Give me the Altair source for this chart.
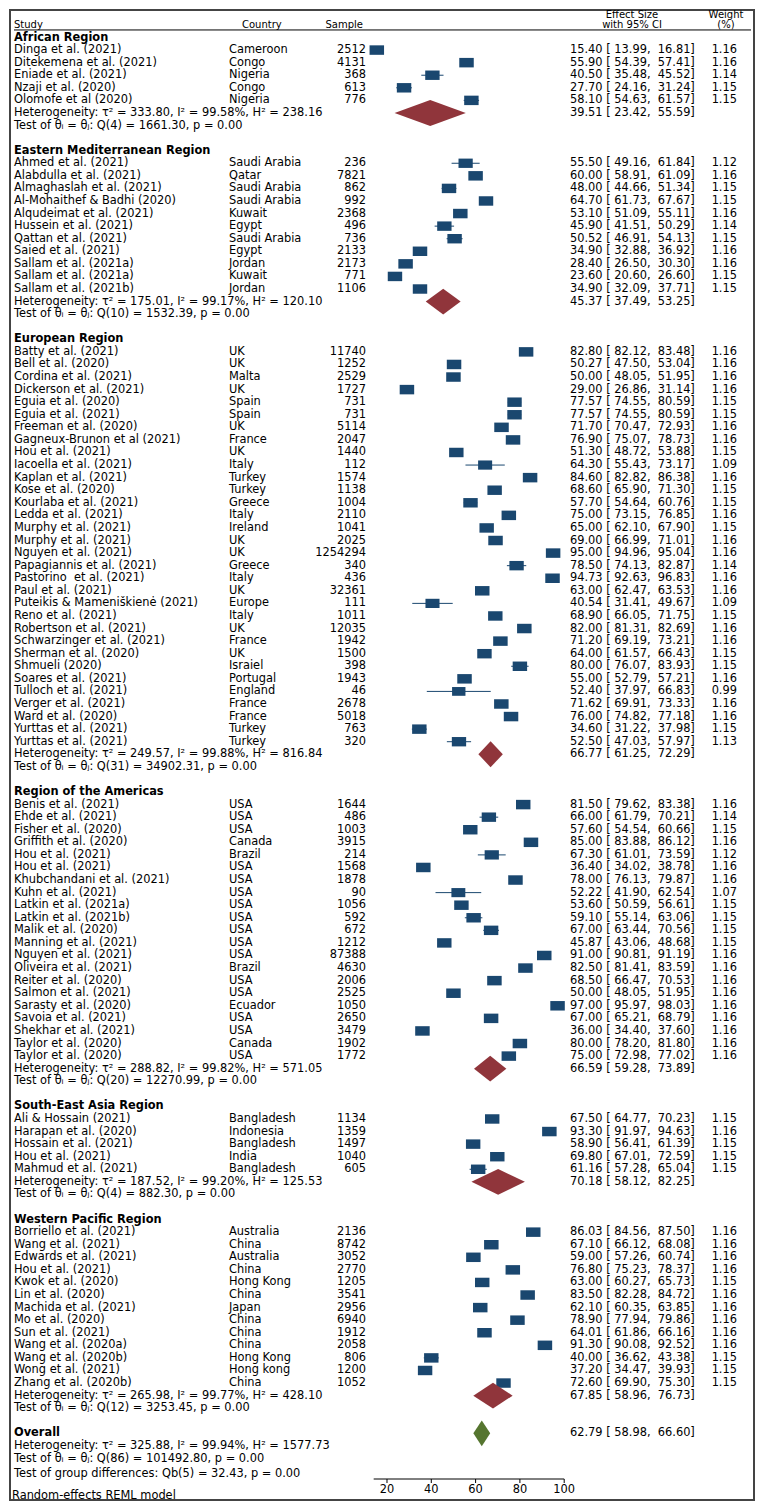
import altair as alt
import pandas as pd

# ---------------- data ----------------
AFR_STUDY = ["Dinga et al. (2021)", "Ditekemena et al. (2021)", "Eniade et al. (2021)", "Nzaji et al. (2020)", "Olomofe et al (2020)"]
AFR_COUNTRY = ["Cameroon", "Congo", "Nigeria", "Congo", "Nigeria"]
AFR_N = [2512, 4131, 368, 613, 776]
AFR_ES = [15.40, 55.90, 40.50, 27.70, 58.10]
AFR_LO = [13.99, 54.39, 35.48, 24.16, 54.63]
AFR_HI = [16.81, 57.41, 45.52, 31.24, 61.57]
AFR_W = [1.16, 1.16, 1.14, 1.15, 1.15]
AFR_POOL = [39.51, 23.42, 55.59]
AFR_HET = [333.80, 99.58, 238.16]
AFR_Q = [4, 1661.30, 0.00]

EMR_STUDY = ["Ahmed et al. (2021)", "Alabdulla et al. (2021)", "Almaghaslah et al. (2021)", "Al-Mohaithef & Badhi (2020)",
             "Alqudeimat et al. (2021)", "Hussein et al. (2021)", "Qattan et al. (2021)", "Saied et al. (2021)",
             "Sallam et al. (2021a)", "Sallam et al. (2021a)", "Sallam et al. (2021b)"]
EMR_COUNTRY = ["Saudi Arabia", "Qatar", "Saudi Arabia", "Saudi Arabia", "Kuwait", "Egypt", "Saudi Arabia", "Egypt",
               "Jordan", "Kuwait", "Jordan"]
EMR_N = [236, 7821, 862, 992, 2368, 496, 736, 2133, 2173, 771, 1106]
EMR_ES = [55.50, 60.00, 48.00, 64.70, 53.10, 45.90, 50.52, 34.90, 28.40, 23.60, 34.90]
EMR_LO = [49.16, 58.91, 44.66, 61.73, 51.09, 41.51, 46.91, 32.88, 26.50, 20.60, 32.09]
EMR_HI = [61.84, 61.09, 51.34, 67.67, 55.11, 50.29, 54.13, 36.92, 30.30, 26.60, 37.71]
EMR_W = [1.12, 1.16, 1.15, 1.15, 1.16, 1.14, 1.15, 1.16, 1.16, 1.15, 1.15]
EMR_POOL = [45.37, 37.49, 53.25]
EMR_HET = [175.01, 99.17, 120.10]
EMR_Q = [10, 1532.39, 0.00]

EUR_STUDY = ["Batty et al. (2021)", "Bell et al. (2020)", "Cordina et al. (2021)", "Dickerson et al. (2021)",
             "Eguia et al. (2020)", "Eguia et al. (2021)", "Freeman et al. (2020)", "Gagneux-Brunon et al (2021)",
             "Hou et al. (2021)", "Iacoella et al. (2021)", "Kaplan et al. (2021)", "Kose et al. (2020)",
             "Kourlaba et al. (2021)", "Ledda et al. (2021)", "Murphy et al. (2021)", "Murphy et al. (2021)",
             "Nguyen et al. (2021)", "Papagiannis et al. (2021)", "Pastorino\u00a0 et al. (2021)", "Paul et al. (2021)",
             "Puteikis & Mameniškienė (2021)", "Reno et al. (2021)", "Robertson et al. (2021)",
             "Schwarzinger et al. (2021)", "Sherman et al. (2020)", "Shmueli (2020)", "Soares et al. (2021)",
             "Tulloch et al. (2021)", "Verger et al. (2021)", "Ward et al. (2020)", "Yurttas et al. (2021)",
             "Yurttas et al. (2021)"]
EUR_COUNTRY = ["UK", "UK", "Malta", "UK", "Spain", "Spain", "UK", "France", "UK", "Italy", "Turkey", "Turkey",
               "Greece", "Italy", "Ireland", "UK", "UK", "Greece", "Italy", "UK", "Europe", "Italy", "UK", "France",
               "UK", "Israiel", "Portugal", "England", "France", "France", "Turkey", "Turkey"]
EUR_N = [11740, 1252, 2529, 1727, 731, 731, 5114, 2047, 1440, 112, 1574, 1138, 1004, 2110, 1041, 2025, 1254294,
         340, 436, 32361, 111, 1011, 12035, 1942, 1500, 398, 1943, 46, 2678, 5018, 763, 320]
EUR_ES = [82.80, 50.27, 50.00, 29.00, 77.57, 77.57, 71.70, 76.90, 51.30, 64.30, 84.60, 68.60, 57.70, 75.00, 65.00,
          69.00, 95.00, 78.50, 94.73, 63.00, 40.54, 68.90, 82.00, 71.20, 64.00, 80.00, 55.00, 52.40, 71.62, 76.00,
          34.60, 52.50]
EUR_LO = [82.12, 47.50, 48.05, 26.86, 74.55, 74.55, 70.47, 75.07, 48.72, 55.43, 82.82, 65.90, 54.64, 73.15, 62.10,
          66.99, 94.96, 74.13, 92.63, 62.47, 31.41, 66.05, 81.31, 69.19, 61.57, 76.07, 52.79, 37.97, 69.91, 74.82,
          31.22, 47.03]
EUR_HI = [83.48, 53.04, 51.95, 31.14, 80.59, 80.59, 72.93, 78.73, 53.88, 73.17, 86.38, 71.30, 60.76, 76.85, 67.90,
          71.01, 95.04, 82.87, 96.83, 63.53, 49.67, 71.75, 82.69, 73.21, 66.43, 83.93, 57.21, 66.83, 73.33, 77.18,
          37.98, 57.97]
EUR_W = [1.16, 1.16, 1.16, 1.16, 1.15, 1.15, 1.16, 1.16, 1.15, 1.09, 1.16, 1.15, 1.15, 1.16, 1.15, 1.16, 1.16,
         1.14, 1.16, 1.16, 1.09, 1.15, 1.16, 1.16, 1.15, 1.15, 1.16, 0.99, 1.16, 1.16, 1.15, 1.13]
EUR_POOL = [66.77, 61.25, 72.29]
EUR_HET = [249.57, 99.88, 816.84]
EUR_Q = [31, 34902.31, 0.00]

AMR_STUDY = ["Benis et al. (2021)", "Ehde et al. (2021)", "Fisher et al. (2020)", "Griffith et al. (2020)",
             "Hou et al. (2021)", "Hou et al. (2021)", "Khubchandani et al. (2021)", "Kuhn et al. (2021)",
             "Latkin et al. (2021a)", "Latkin et al. (2021b)", "Malik et al. (2020)", "Manning et al. (2021)",
             "Nguyen et al. (2021)", "Oliveira et al. (2021)", "Reiter et al. (2020)", "Salmon et al. (2021)",
             "Sarasty et al. (2020)", "Savoia et al. (2021)", "Shekhar et al. (2021)", "Taylor et al. (2020)",
             "Taylor et al. (2020)"]
AMR_COUNTRY = ["USA", "USA", "USA", "Canada", "Brazil", "USA", "USA", "USA", "USA", "USA", "USA", "USA", "USA",
               "Brazil", "USA", "USA", "Ecuador", "USA", "USA", "Canada", "USA"]
AMR_N = [1644, 486, 1003, 3915, 214, 1568, 1878, 90, 1056, 592, 672, 1212, 87388, 4630, 2006, 2525, 1050, 2650,
         3479, 1902, 1772]
AMR_ES = [81.50, 66.00, 57.60, 85.00, 67.30, 36.40, 78.00, 52.22, 53.60, 59.10, 67.00, 45.87, 91.00, 82.50, 68.50,
          50.00, 97.00, 67.00, 36.00, 80.00, 75.00]
AMR_LO = [79.62, 61.79, 54.54, 83.88, 61.01, 34.02, 76.13, 41.90, 50.59, 55.14, 63.44, 43.06, 90.81, 81.41, 66.47,
          48.05, 95.97, 65.21, 34.40, 78.20, 72.98]
AMR_HI = [83.38, 70.21, 60.66, 86.12, 73.59, 38.78, 79.87, 62.54, 56.61, 63.06, 70.56, 48.68, 91.19, 83.59, 70.53,
          51.95, 98.03, 68.79, 37.60, 81.80, 77.02]
AMR_W = [1.16, 1.14, 1.15, 1.16, 1.12, 1.16, 1.16, 1.07, 1.15, 1.15, 1.15, 1.15, 1.16, 1.16, 1.16, 1.16, 1.16,
         1.16, 1.16, 1.16, 1.16]
AMR_POOL = [66.59, 59.28, 73.89]
AMR_HET = [288.82, 99.82, 571.05]
AMR_Q = [20, 12270.99, 0.00]

SEA_STUDY = ["Ali & Hossain (2021)", "Harapan et al. (2020)", "Hossain et al. (2021)", "Hou et al. (2021)",
             "Mahmud et al. (2021)"]
SEA_COUNTRY = ["Bangladesh", "Indonesia", "Bangladesh", "India", "Bangladesh"]
SEA_N = [1134, 1359, 1497, 1040, 605]
SEA_ES = [67.50, 93.30, 58.90, 69.80, 61.16]
SEA_LO = [64.77, 91.97, 56.41, 67.01, 57.28]
SEA_HI = [70.23, 94.63, 61.39, 72.59, 65.04]
SEA_W = [1.15, 1.16, 1.15, 1.15, 1.15]
SEA_POOL = [70.18, 58.12, 82.25]
SEA_HET = [187.52, 99.20, 125.53]
SEA_Q = [4, 882.30, 0.00]

WPR_STUDY = ["Borriello et al. (2021)", "Wang et al. (2021)", "Edwards et al. (2021)", "Hou et al. (2021)",
             "Kwok et al. (2020)", "Lin et al. (2020)", "Machida et al. (2021)", "Mo et al. (2020)",
             "Sun et al. (2021)", "Wang et al. (2020a)", "Wang et al. (2020b)", "Wong et al. (2021)",
             "Zhang et al. (2020b)"]
WPR_COUNTRY = ["Australia", "China", "Australia", "China", "Hong Kong", "China", "Japan", "China", "China", "China",
               "Hong Kong", "Hong kong", "China"]
WPR_N = [2136, 8742, 3052, 2770, 1205, 3541, 2956, 6940, 1912, 2058, 806, 1200, 1052]
WPR_ES = [86.03, 67.10, 59.00, 76.80, 63.00, 83.50, 62.10, 78.90, 64.01, 91.30, 40.00, 37.20, 72.60]
WPR_LO = [84.56, 66.12, 57.26, 75.23, 60.27, 82.28, 60.35, 77.94, 61.86, 90.08, 36.62, 34.47, 69.90]
WPR_HI = [87.50, 68.08, 60.74, 78.37, 65.73, 84.72, 63.85, 79.86, 66.16, 92.52, 43.38, 39.93, 75.30]
WPR_W = [1.16, 1.16, 1.16, 1.16, 1.15, 1.16, 1.16, 1.16, 1.16, 1.16, 1.15, 1.15, 1.15]
WPR_POOL = [67.85, 58.96, 76.73]
WPR_HET = [265.98, 99.77, 428.10]
WPR_Q = [12, 3253.45, 0.00]

OVERALL_POOL = [62.79, 58.98, 66.60]
OVERALL_HET = [325.88, 99.94, 1577.73]
OVERALL_Q = [86, 101492.80, 0.00]
GROUP_Q = [5, 32.43, 0.00]

AXIS_TICKS = [20, 40, 60, 80, 100]
AXIS_RANGE = [13.99, 100]

REGIONS = [
    ("African Region", AFR_STUDY, AFR_COUNTRY, AFR_N, AFR_ES, AFR_LO, AFR_HI, AFR_W, AFR_POOL, AFR_HET, AFR_Q),
    ("Eastern Mediterranean Region", EMR_STUDY, EMR_COUNTRY, EMR_N, EMR_ES, EMR_LO, EMR_HI, EMR_W, EMR_POOL, EMR_HET, EMR_Q),
    ("European Region", EUR_STUDY, EUR_COUNTRY, EUR_N, EUR_ES, EUR_LO, EUR_HI, EUR_W, EUR_POOL, EUR_HET, EUR_Q),
    ("Region of the Americas", AMR_STUDY, AMR_COUNTRY, AMR_N, AMR_ES, AMR_LO, AMR_HI, AMR_W, AMR_POOL, AMR_HET, AMR_Q),
    ("South-East Asia Region", SEA_STUDY, SEA_COUNTRY, SEA_N, SEA_ES, SEA_LO, SEA_HI, SEA_W, SEA_POOL, SEA_HET, SEA_Q),
    ("Western Pacific Region", WPR_STUDY, WPR_COUNTRY, WPR_N, WPR_ES, WPR_LO, WPR_HI, WPR_W, WPR_POOL, WPR_HET, WPR_Q),
]

# ---------------- styling / layout ----------------
FONT = "DejaVu Sans"
FS = 11.4
HFS = 10.0
NAVY = "#1a476f"
MAROON = "#90353b"
GREEN = "#55752f"
W_PX, H_PX = 744, 1490
DIAMOND_HALF = 1.03  # rows

NB = "\u00a0"


def ci_text(es, lo, hi):
    return f"{es:.2f} [{NB}{lo:.2f},{NB} {hi:.2f}]"


def het_text(h):
    return f"Heterogeneity: τ² = {h[0]:.2f}, I² = {h[1]:.2f}%, H² = {h[2]:.2f}"


def test_text(q):
    return f"Test of θ\u1d62 = θ\u2c7c: Q({q[0]}) = {q[1]:.2f}, p = {q[2]:.2f}"


studies, bold_rows, plain_rows, es_rows, dia_sub, dia_all = [], [], [], [], [], []
r = 0
for (name, st, co, n, es, lo, hi, w, pool, het, q) in REGIONS:
    bold_rows.append({"row": r, "t": name})
    for i in range(len(st)):
        rr = r + 1 + i
        studies.append({"row": rr, "study": st[i], "country": co[i], "n": str(n[i]), "es": es[i],
                        "lo": lo[i], "hi": hi[i], "w": w[i], "wt": f"{w[i]:.2f}"})
        es_rows.append({"row": rr, "t": ci_text(es[i], lo[i], hi[i])})
    rh = r + len(st) + 1
    plain_rows.append({"row": rh, "t": het_text(het)})
    plain_rows.append({"row": rh + 1, "t": test_text(q)})
    es_rows.append({"row": rh, "t": ci_text(*pool)})
    dia_sub += [
        {"g": name, "x": pool[1], "y": rh, "y2": rh},
        {"g": name, "x": pool[0], "y": rh - DIAMOND_HALF, "y2": rh + DIAMOND_HALF},
        {"g": name, "x": pool[2], "y": rh, "y2": rh},
    ]
    r = rh + 3

ro = r
bold_rows.append({"row": ro, "t": "Overall"})
plain_rows.append({"row": ro + 1, "t": het_text(OVERALL_HET)})
plain_rows.append({"row": ro + 2, "t": test_text(OVERALL_Q)})
plain_rows.append({"row": ro + 3.27,
                   "t": f"Test of group differences: Qb({GROUP_Q[0]}) = {GROUP_Q[1]:.2f}, p = {GROUP_Q[2]:.2f}"})
es_rows.append({"row": ro, "t": ci_text(*OVERALL_POOL)})
dia_all += [
    {"g": "o", "x": OVERALL_POOL[1], "y": ro, "y2": ro},
    {"g": "o", "x": OVERALL_POOL[0], "y": ro - DIAMOND_HALF, "y2": ro + DIAMOND_HALF},
    {"g": "o", "x": OVERALL_POOL[2], "y": ro, "y2": ro},
]
reml = pd.DataFrame([{"row": 116.0, "t": "Random-effects REML model"}])

df_st = pd.DataFrame(studies)
df_bold = pd.DataFrame(bold_rows)
df_plain = pd.DataFrame(plain_rows)
df_es = pd.DataFrame(es_rows)
df_dsub = pd.DataFrame(dia_sub)
df_dall = pd.DataFrame(dia_all)
df_axis = pd.DataFrame([{"a": AXIS_RANGE[0], "b": AXIS_RANGE[1]}])
df_ticks = pd.DataFrame({"v": AXIS_TICKS, "t": [str(v) for v in AXIS_TICKS]})
df_hline = pd.DataFrame([{"row": -0.6}])

xscale = alt.Scale(domain=[-150.20, 185.69], nice=False, zero=False)
yscale = alt.Scale(domain=[-2.187, 116.30], nice=False, zero=False, reverse=True)


def Y(field="row"):
    return alt.Y(f"{field}:Q", scale=yscale, axis=None)


def txt(df, x, align="left", bold=False, field="t", size=FS):
    return alt.Chart(df).mark_text(
        align=align, baseline="middle", font=FONT, fontSize=size, color="black",
        fontWeight="bold" if bold else "normal"
    ).encode(x=alt.value(x), y=Y(), text=f"{field}:N")


ci = alt.Chart(df_st).mark_rule(color=NAVY, strokeWidth=1).encode(
    x=alt.X("lo:Q", scale=xscale, axis=None), x2="hi:Q", y=Y())

squares = alt.Chart(df_st).mark_point(
    shape="M-1,-0.655L1,-0.655L1,0.655L-1,0.655Z", filled=True, color=NAVY, opacity=1
).encode(
    x=alt.X("es:Q", scale=xscale, axis=None),
    y=Y(),
    size=alt.Size("w:Q", scale=alt.Scale(domain=[0, 1.16], range=[0, 210]), legend=None),
)

dsub = alt.Chart(df_dsub).mark_area(color=MAROON, orient="vertical").encode(
    x=alt.X("x:Q", scale=xscale, axis=None), y=Y("y"), y2="y2:Q", detail="g:N")
dall = alt.Chart(df_dall).mark_area(color=GREEN, orient="vertical").encode(
    x=alt.X("x:Q", scale=xscale, axis=None), y=Y("y"), y2="y2:Q", detail="g:N")

AXIS_Y = 1469
axis_line = alt.Chart(df_axis).mark_rule(color="black", strokeWidth=1).encode(
    x=alt.X("a:Q", scale=xscale, axis=None), x2="b:Q", y=alt.value(AXIS_Y))
axis_ticks = alt.Chart(df_ticks).mark_rule(color="black", strokeWidth=1).encode(
    x=alt.X("v:Q", scale=xscale, axis=None), y=alt.value(AXIS_Y), y2=alt.value(AXIS_Y + 4))
axis_labels = alt.Chart(df_ticks).mark_text(
    align="center", baseline="middle", font=FONT, fontSize=FS, color="black"
).encode(x=alt.X("v:Q", scale=xscale, axis=None), y=alt.value(AXIS_Y + 11), text="t:N")

hline = alt.Chart(df_hline).mark_rule(color="black", strokeWidth=1).encode(
    x=alt.value(4), x2=alt.value(741), y=Y())

head1 = pd.DataFrame([{"row": -1.79, "a": "Effect Size", "b": "Weight"}])
head2 = pd.DataFrame([{"row": -0.955, "s": "Study", "c": "Country", "n": "Sample", "a": "with 95% CI", "b": "(%)"}])

layers = [
    ci, squares, dsub, dall, axis_line, axis_ticks, axis_labels, hline,
    txt(head1, 622, "center", field="a", size=HFS), txt(head1, 716, "center", field="b", size=HFS),
    txt(head2, 4, "left", field="s", size=HFS), txt(head2, 232, "left", field="c", size=HFS),
    txt(head2, 353, "right", field="n", size=HFS), txt(head2, 622, "center", field="a", size=HFS),
    txt(head2, 716, "center", field="b", size=HFS),
    txt(df_bold, 4, "left", bold=True),
    txt(df_plain, 4, "left"),
    txt(df_st, 4, "left", field="study"),
    txt(df_st, 219, "left", field="country"),
    txt(df_st, 356, "right", field="n"),
    txt(df_st, 727, "right", field="wt"),
    txt(df_es, 560, "left"),
    txt(reml, 2, "left"),
]

chart = alt.layer(*layers).properties(
    width=W_PX, height=H_PX,
    autosize=alt.AutoSizeParams(type="none"),
    padding=2,
    background="white",
).configure_view(stroke="#444444", strokeWidth=2)

chart.save("out.html", embed_options={"renderer": "svg", "actions": False})
